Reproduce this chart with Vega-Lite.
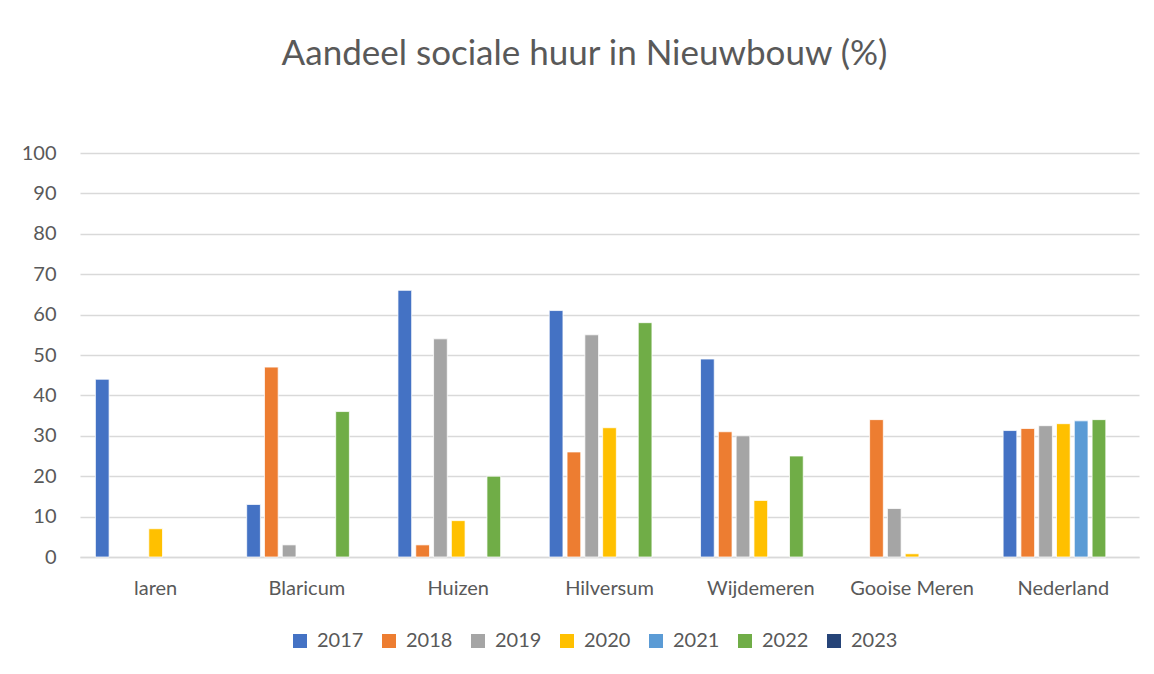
{
  "$schema": "https://vega.github.io/schema/vega-lite/v6.json",
  "autosize": "none",
  "width": 1059,
  "height": 404,
  "padding": {"left": 80, "top": 153, "right": 15, "bottom": 117},
  "background": "white",
  "title": {
    "text": "Aandeel sociale huur in Nieuwbouw (%)",
    "font": "Lato",
    "fontSize": 35,
    "fontWeight": "normal",
    "color": "#595959",
    "anchor": "middle",
    "frame": "group",
    "dx": -25,
    "offset": 71
  },
  "data": {
    "values": [
      {"regio": "laren", "jaar": "2017", "waarde": 44},
      {"regio": "laren", "jaar": "2020", "waarde": 7},
      {"regio": "Blaricum", "jaar": "2017", "waarde": 13},
      {"regio": "Blaricum", "jaar": "2018", "waarde": 47},
      {"regio": "Blaricum", "jaar": "2019", "waarde": 3},
      {"regio": "Blaricum", "jaar": "2022", "waarde": 36},
      {"regio": "Huizen", "jaar": "2017", "waarde": 66},
      {"regio": "Huizen", "jaar": "2018", "waarde": 3},
      {"regio": "Huizen", "jaar": "2019", "waarde": 54},
      {"regio": "Huizen", "jaar": "2020", "waarde": 9},
      {"regio": "Huizen", "jaar": "2022", "waarde": 20},
      {"regio": "Hilversum", "jaar": "2017", "waarde": 61},
      {"regio": "Hilversum", "jaar": "2018", "waarde": 26},
      {"regio": "Hilversum", "jaar": "2019", "waarde": 55},
      {"regio": "Hilversum", "jaar": "2020", "waarde": 32},
      {"regio": "Hilversum", "jaar": "2022", "waarde": 58},
      {"regio": "Wijdemeren", "jaar": "2017", "waarde": 49},
      {"regio": "Wijdemeren", "jaar": "2018", "waarde": 31},
      {"regio": "Wijdemeren", "jaar": "2019", "waarde": 30},
      {"regio": "Wijdemeren", "jaar": "2020", "waarde": 14},
      {"regio": "Wijdemeren", "jaar": "2022", "waarde": 25},
      {"regio": "Gooise Meren", "jaar": "2018", "waarde": 34},
      {"regio": "Gooise Meren", "jaar": "2019", "waarde": 12},
      {"regio": "Gooise Meren", "jaar": "2020", "waarde": 0.8},
      {"regio": "Nederland", "jaar": "2017", "waarde": 31.3},
      {"regio": "Nederland", "jaar": "2018", "waarde": 31.8},
      {"regio": "Nederland", "jaar": "2019", "waarde": 32.5},
      {"regio": "Nederland", "jaar": "2020", "waarde": 33.0},
      {"regio": "Nederland", "jaar": "2021", "waarde": 33.7},
      {"regio": "Nederland", "jaar": "2022", "waarde": 34.0}
    ]
  },
  "mark": {"type": "bar", "stroke": "white", "strokeWidth": 0.75},
  "encoding": {
    "x": {
      "field": "regio",
      "type": "nominal",
      "sort": ["laren", "Blaricum", "Huizen", "Hilversum", "Wijdemeren", "Gooise Meren", "Nederland"],
      "scale": {"paddingInner": 0, "paddingOuter": 0},
      "axis": {
        "title": null,
        "labelAngle": 0,
        "labelFont": "Lato",
        "labelFontSize": 20,
        "labelColor": "#595959",
        "labelPadding": 21,
        "ticks": false,
        "domain": true,
        "domainColor": "#D9D9D9",
        "domainWidth": 1.5,
        "grid": false
      }
    },
    "xOffset": {
      "field": "jaar",
      "type": "nominal",
      "scale": {"domain": ["2017", "2018", "2019", "2020", "2021", "2022", "2023"], "paddingInner": 0.23, "paddingOuter": 0.865}
    },
    "y": {
      "field": "waarde",
      "type": "quantitative",
      "scale": {"domain": [0, 100], "nice": false},
      "axis": {
        "title": null,
        "values": [0, 10, 20, 30, 40, 50, 60, 70, 80, 90, 100],
        "labelFont": "Lato",
        "labelFontSize": 20,
        "labelColor": "#595959",
        "labelPadding": 24,
        "ticks": false,
        "domain": false,
        "grid": true,
        "gridColor": "#D9D9D9",
        "gridWidth": 1.5
      }
    },
    "color": {
      "field": "jaar",
      "type": "nominal",
      "scale": {
        "domain": ["2017", "2018", "2019", "2020", "2021", "2022", "2023"],
        "range": ["#4472C4", "#ED7D31", "#A5A5A5", "#FFC000", "#5B9BD5", "#70AD47", "#264478"]
      },
      "legend": {
        "title": null,
        "orient": "none",
        "direction": "horizontal",
        "legendX": 210,
        "legendY": 478,
        "symbolType": "square",
        "symbolSize": 196,
        "symbolStrokeWidth": 0,
        "symbolOpacity": 1,
        "labelFont": "Lato",
        "labelFontSize": 20,
        "labelColor": "#595959",
        "labelOffset": 7,
        "columnPadding": 15
      }
    }
  },
  "config": {"view": {"stroke": null}}
}
